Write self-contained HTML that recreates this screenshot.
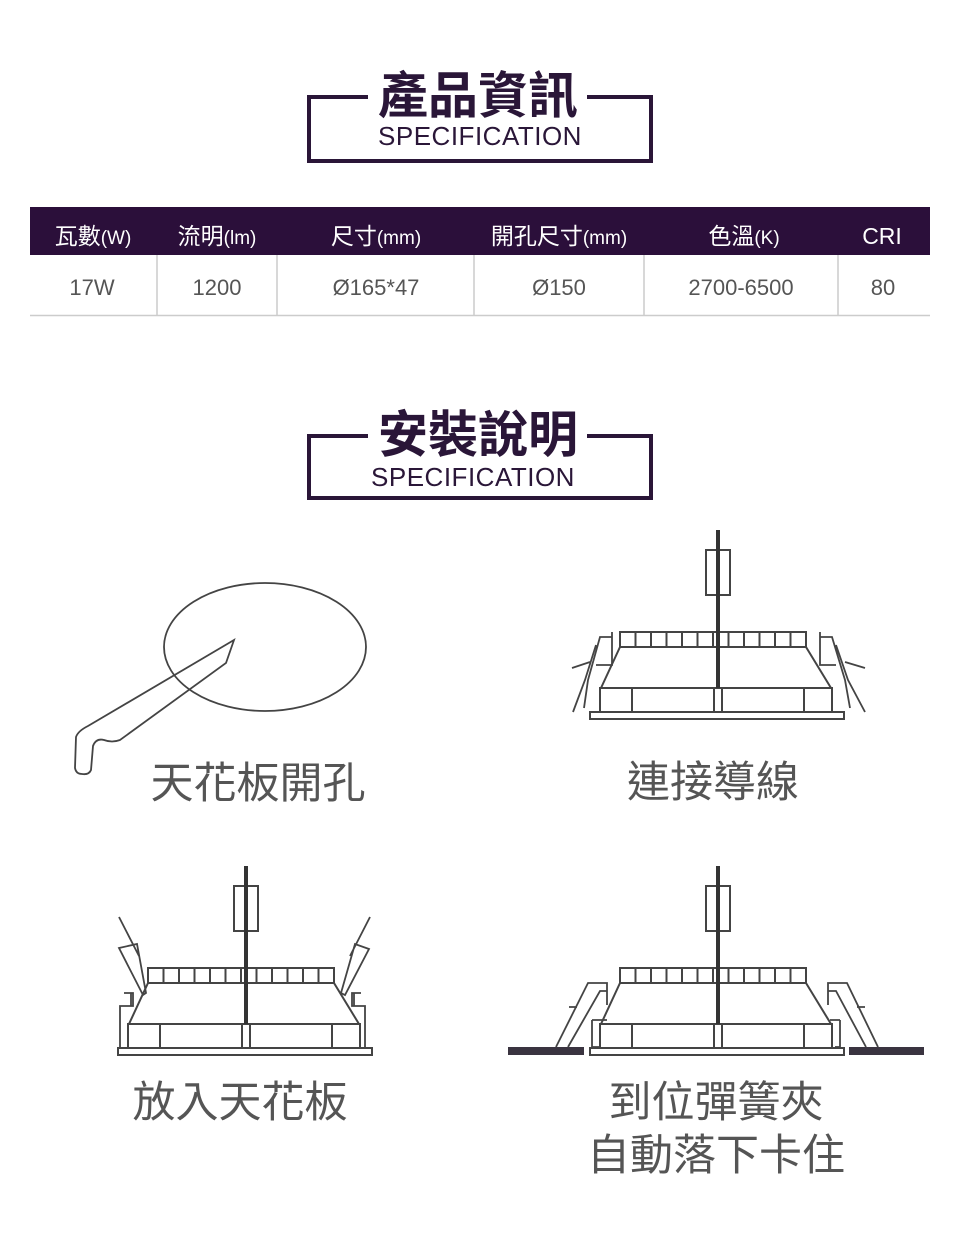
<!DOCTYPE html>
<html><head><meta charset="utf-8"><style>
html,body{margin:0;padding:0;background:#fff;}
svg{display:block;}
.cjk{font-family:"Liberation Sans","Noto Sans CJK TC",sans-serif;}
</style></head><body>
<svg width="960" height="1240" viewBox="0 0 960 1240" xmlns="http://www.w3.org/2000/svg" class="cjk">
<defs>
<g id="lamp" fill="none" stroke="#444" stroke-width="2">
  <rect x="-12" y="-82" width="24" height="45"/>
  <rect x="-98" y="0" width="186" height="15"/>
  <path d="M-82.5 0V15M-67 0V15M-51.5 0V15M-36 0V15M-20.5 0V15M-5 0V15M10.5 0V15M26 0V15M41.5 0V15M57 0V15M72.5 0V15"/>
  <path d="M-98 15L-117 56M88 15L113 56"/>
  <rect x="-118" y="56" width="232" height="24"/>
  <path d="M-86 56V80M-4 56V80M4 56V80M86 56V80"/>
  <rect x="-128" y="80" width="254" height="7"/>
  <line x1="0" y1="-102" x2="0" y2="56" stroke="#333" stroke-width="4"/>
</g>
</defs>

<!-- title box 1 -->
<g stroke="#2a1638" stroke-width="4" fill="none">
  <path d="M368 97H309V161H651V97H587"/>
</g>
<text x="478" y="113" font-size="50" font-weight="bold" fill="#2a1638" text-anchor="middle">產品資訊</text>
<text x="480" y="145" font-size="26" fill="#2a1638" text-anchor="middle" letter-spacing="0.5">SPECIFICATION</text>

<!-- table -->
<rect x="30" y="207" width="900" height="48" fill="#2b0f3a"/>
<g font-size="23" fill="#fff" text-anchor="middle">
  <text x="93" y="244">瓦數<tspan font-size="19">(W)</tspan></text>
  <text x="217" y="244">流明<tspan font-size="19">(lm)</tspan></text>
  <text x="376" y="244">尺寸<tspan font-size="19">(mm)</tspan></text>
  <text x="559" y="244">開孔尺寸<tspan font-size="19">(mm)</tspan></text>
  <text x="744" y="244">色溫<tspan font-size="19">(K)</tspan></text>
  <text x="882" y="244">CRI</text>
</g>
<g stroke="#ccc" stroke-width="1.5">
  <path d="M157 255V315M277 255V315M474 255V315M644 255V315M838 255V315"/>
  <path d="M30 315.5H930"/>
</g>
<g font-size="22" fill="#555" text-anchor="middle">
  <text x="92" y="295">17W</text>
  <text x="217" y="295">1200</text>
  <text x="376" y="295">Ø165*47</text>
  <text x="559" y="295">Ø150</text>
  <text x="741" y="295">2700-6500</text>
  <text x="883" y="295">80</text>
</g>

<!-- title box 2 -->
<g stroke="#2a1638" stroke-width="4" fill="none">
  <path d="M368 436H309V498H651V436H587"/>
</g>
<text x="478" y="452" font-size="50" font-weight="bold" fill="#2a1638" text-anchor="middle">安裝說明</text>
<text x="473" y="486" font-size="26" fill="#2a1638" text-anchor="middle" letter-spacing="0.5">SPECIFICATION</text>

<!-- step 1: knife & hole -->
<g fill="none" stroke="#444" stroke-width="1.8">
  <ellipse cx="265" cy="647" rx="101" ry="64"/>
  <path d="M234 640L226 663L120 740Q112 743 104 740Q96 738 93 746L91 770Q89 775 82 774Q76 774 75 768L76 737Q78 731 88 726Z"/>
</g>
<text x="258" y="798" font-size="43" fill="#555" text-anchor="middle">天花板開孔</text>

<!-- step 2 -->
<use href="#lamp" x="718" y="632"/>
<g fill="none" stroke="#444" stroke-width="1.8">
  <path d="M612 632V665H596M612 637H600L588 680L584 708M596 645L585 680L573 712M572 668L590 662"/>
  <path d="M820 632V665H836M820 637H832L845 680L850 708M836 645L848 680L865 712M865 668L845 662"/>
</g>
<text x="713" y="797" font-size="43" fill="#555" text-anchor="middle">連接導線</text>

<!-- step 3 -->
<use href="#lamp" x="246" y="968"/>
<g fill="none" stroke="#444" stroke-width="1.8">
  <path d="M119 917L139 956M119 948L137 944L146 993L143 995ZM124 993H133V1006H120V1048M131 993V1006"/>
  <path d="M370 917L350 956M369 949L355 944L341 993L345 995ZM361 993H352V1006H365V1048M354 993V1006"/>
</g>
<text x="240" y="1117" font-size="43" fill="#555" text-anchor="middle">放入天花板</text>

<!-- step 4 -->
<use href="#lamp" x="718" y="968"/>
<rect x="508" y="1047" width="76" height="8" fill="#3a3440"/>
<rect x="849" y="1047" width="75" height="8" fill="#3a3440"/>
<g fill="none" stroke="#444" stroke-width="1.8">
  <path d="M556 1047L588 983H607V1005M568 1047L600 991H607M569 1007H577M592 1020V1047H600M592 1020H607"/>
  <path d="M878 1047L847 983H828V1005M866 1047L836 991H828M865 1007H857M840 1020V1047H835M840 1020H830"/>
</g>
<text x="716" y="1117" font-size="43" fill="#555" text-anchor="middle">到位彈簧夾</text>
<text x="716" y="1170" font-size="43" fill="#555" text-anchor="middle">自動落下卡住</text>
</svg>
</body></html>
